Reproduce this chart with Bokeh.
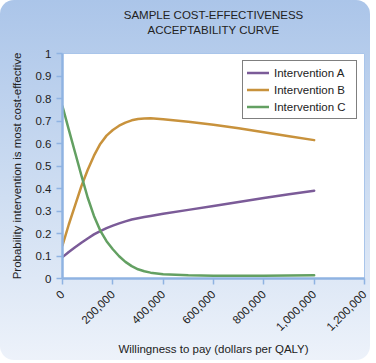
from bokeh.plotting import figure
from bokeh.models import (ColumnDataSource, FixedTicker, NumeralTickFormatter,
                          Legend, LegendItem, Title)
from bokeh.embed import file_html
from bokeh.resources import INLINE

# ---- data ----
wtp = [0, 25000, 50000, 75000, 100000, 125000, 150000, 175000, 200000,
       225000, 250000, 275000, 300000, 325000, 350000, 400000, 500000, 600000,
       700000, 800000, 900000, 1000000]
intervention_a = [0.095, 0.118, 0.139, 0.159, 0.178, 0.196, 0.211, 0.224, 0.235,
                  0.245, 0.254, 0.262, 0.268, 0.273, 0.278, 0.288, 0.305, 0.322,
                  0.340, 0.358, 0.374, 0.390]
intervention_b = [0.147, 0.240, 0.325, 0.410, 0.482, 0.546, 0.598, 0.635, 0.660,
                  0.679, 0.693, 0.703, 0.709, 0.711, 0.712, 0.708, 0.697, 0.683,
                  0.668, 0.650, 0.632, 0.615]
intervention_c = [0.765, 0.662, 0.560, 0.458, 0.360, 0.278, 0.213, 0.166, 0.130,
                  0.099, 0.074, 0.055, 0.041, 0.032, 0.026, 0.019, 0.014, 0.012,
                  0.012, 0.012, 0.013, 0.014]
series_names = ["Intervention A", "Intervention B", "Intervention C"]
x_ticks = [0, 200000, 400000, 600000, 800000, 1000000, 1200000]
y_ticks = [0, 0.1, 0.2, 0.3, 0.4, 0.5, 0.6, 0.7, 0.8, 0.9, 1.0]
y_tick_labels = ["0", "0.1", "0.2", "0.3", "0.4", "0.5", "0.6", "0.7", "0.8", "0.9", "1"]
title_lines = ["SAMPLE COST-EFFECTIVENESS", "ACCEPTABILITY CURVE"]
x_label = "Willingness to pay (dollars per QALY)"
y_label = "Probability intervention is most cost-effective"

colors = ["#7b5b98", "#c8923c", "#63a062"]
FONT = "Liberation Sans"
FS = "11.5px"
AXIS_BLUE = "#8fb3e2"

W, H = 370, 360
BL, BR, BT, BB = 62, 6, 53, 82
p = figure(width=W, height=H, output_backend="svg", toolbar_location=None,
           x_range=(0, 1200000), y_range=(0, 1),
           min_border_left=BL, min_border_right=BR, min_border_top=BT,
           min_border_bottom=BB)

p.background_fill_color = "white"
p.border_fill_alpha = 0
p.outline_line_color = "#a9c5ea"
p.outline_line_width = 1
p.styles = {"background": "linear-gradient(to bottom, #abc5e9 0%, #cfdef2 55%, #edf2fa 100%)",
            "border-radius": "14px"}

src = ColumnDataSource(dict(x=wtp, a=intervention_a, b=intervention_b, c=intervention_c))
renderers = []
for col, colr in zip(["a", "b", "c"], colors):
    r = p.line("x", col, source=src, line_color=colr, line_width=2.5,
               line_join="round", line_cap="round")
    renderers.append(r)

# two centred title lines; panels stack outward from the frame, so a blank
# spacer goes first, then the second line, then the first line.
p.title = None
p.add_layout(Title(text=" ", align="center", text_font=FONT, text_font_size=FS,
                   standoff=2), "above")
for line, so in zip(reversed(title_lines), [3, 0]):
    p.add_layout(Title(text=line, align="center", text_font=FONT, text_font_size=FS,
                       text_font_style="normal", text_color="#222222",
                       standoff=so), "above")

# axes
for ax in (p.xaxis[0], p.yaxis[0]):
    ax.axis_line_color = AXIS_BLUE
    ax.axis_line_width = 2.5
    ax.major_tick_line_color = AXIS_BLUE
    ax.major_tick_line_width = 1.5
    ax.major_tick_out = 6
    ax.major_tick_in = 0
    ax.minor_tick_line_color = None
    ax.major_label_text_font = FONT
    ax.major_label_text_font_size = FS
    ax.major_label_text_color = "#222222"
    ax.axis_label_text_font = FONT
    ax.axis_label_text_font_size = FS
    ax.axis_label_text_font_style = "normal"
    ax.axis_label_text_color = "#222222"

p.xaxis.ticker = FixedTicker(ticks=x_ticks)
p.xaxis.formatter = NumeralTickFormatter(format="0,0")
p.xaxis.major_label_orientation = 0.785398
p.xaxis.major_label_standoff = 8
p.xaxis.axis_label = x_label
p.xaxis.axis_label_standoff = 6

p.yaxis.ticker = FixedTicker(ticks=y_ticks)
p.yaxis.major_label_overrides = {v: s for v, s in zip(y_ticks, y_tick_labels)}
p.yaxis.axis_label = y_label
p.yaxis.axis_label_standoff = 10

p.xgrid.grid_line_color = None
p.ygrid.grid_line_color = None

legend = Legend(items=[LegendItem(label=n, renderers=[r]) for n, r in zip(series_names, renderers)],
                location="top_right", border_line_color="black", border_line_width=1.2,
                background_fill_color="white", background_fill_alpha=1,
                label_text_font=FONT, label_text_font_size=FS, label_text_color="#222222",
                glyph_width=22, glyph_height=15, label_height=15, spacing=2,
                padding=4, margin=7, label_standoff=5, label_width=78)
p.add_layout(legend)

open("out.html", "w").write(file_html(p, INLINE))
